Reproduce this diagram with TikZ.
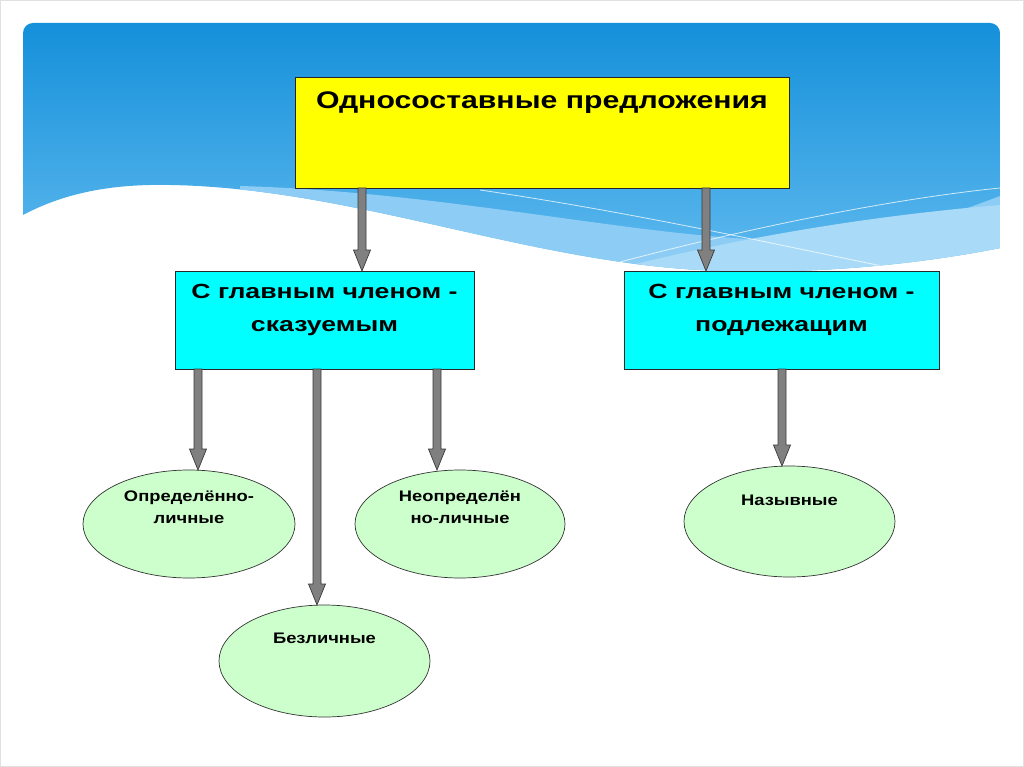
\documentclass[tikz,border=0pt]{standalone}
\usepackage{fontspec}
\newfontfamily\lab[FakeStretch=1.2]{Liberation Sans}
\newfontfamily\labtitle[FakeStretch=1.26]{Liberation Sans}
\newfontfamily\labbox[FakeStretch=1.3]{Liberation Sans}
\usetikzlibrary{shapes.geometric,calc}
\definecolor{bluetop}{HTML}{1590DA}
\definecolor{bluebot}{HTML}{62BBEF}
\definecolor{bandblue}{HTML}{8DCDF5}
\definecolor{bandlight}{HTML}{A9DBF8}
\definecolor{boxyellow}{HTML}{FFFF00}
\definecolor{boxcyan}{HTML}{00FFFF}
\definecolor{ovalgreen}{HTML}{CCFFCC}
\definecolor{arrowgray}{HTML}{808080}
\definecolor{arrowedge}{HTML}{3A3A3A}
\newcommand\blockarrow[2]{%
  \filldraw[arrowstyle] let \p1=#1, \p2=#2 in
   (\x1-4pt,\y1) -- (\x1-4pt,\y2+21pt) -- (\x1-8.5pt,\y2+21pt) -- (\x1,\y2)
   -- (\x1+8.5pt,\y2+21pt) -- (\x1+4pt,\y2+21pt) -- (\x1+4pt,\y1) -- cycle;}
\tikzset{
  ybox/.style={rectangle, draw=black!85, line width=0.8pt, fill=boxyellow, inner sep=0pt, outer sep=0pt,
    font={\labtitle\bfseries\fontsize{24pt}{28pt}\selectfont}},
  cbox/.style={rectangle, draw=black!85, line width=0.8pt, fill=boxcyan, inner sep=0pt, outer sep=0pt,
    font={\labbox\bfseries\fontsize{20.5pt}{33pt}\selectfont}},
  oval/.style={ellipse, draw=black!80, line width=0.7pt, fill=ovalgreen, inner sep=0pt, outer sep=0pt,
    font={\lab\bfseries\fontsize{15.3pt}{21.5pt}\selectfont}},
  arrowstyle/.style={fill=arrowgray, draw=arrowedge, line width=0.7pt, line join=miter},
  wline/.style={draw=white, line width=0.8pt, opacity=0.75}
}
\begin{document}
\begin{tikzpicture}[x=1pt,y=-1pt]
\useasboundingbox (0,0) rectangle (1024,767);
\fill[white] (0,0) rectangle (1024,767);
\draw[black!12] (0.5,0.5) rectangle (1023.5,766.5);
% background
\begin{scope}
\clip (23,215) [rounded corners=10pt] -- (23,23) -- (1000,23) [sharp corners] -- (1000,248)
  .. controls (930,262) and (820,276) .. (700,270)
  .. controls (520,260) and (350,188) .. (170,185)
  .. controls (120,184) and (70,190) .. (23,215) -- cycle;
\shade[top color=bluetop, bottom color=bluebot] (23,23) rectangle (1000,280);
\fill[bandblue] (240,186) .. controls (450,192) and (640,238) .. (780,240)
  .. controls (880,241) and (950,215) .. (1000,196) -- (1000,300) -- (240,300) -- cycle;
\fill[bandlight] (620,268) .. controls (750,235) and (880,215) .. (1000,205) -- (1000,300) -- (620,300) -- cycle;
\draw[wline] (480,190) .. controls (650,215) and (800,250) .. (912,272);
\draw[wline] (620,262) .. controls (760,225) and (900,198) .. (1000,188);
\end{scope}
% nodes
\node[ybox] (top) at (542,132.5) {\parbox[c][111pt][t]{494pt}{\centering\rule{0pt}{32pt}Односоставные предложения}};
\node[cbox] (lc) at (324.5,320) {\parbox[c][98pt][t]{299pt}{\centering\rule{0pt}{27.5pt}С главным членом -\\сказуемым}};
\node[cbox] (rc) at (781.5,320) {\parbox[c][98pt][t]{315pt}{\centering\rule{0pt}{27.5pt}С главным членом -\\подлежащим}};
\node[oval, minimum width=212pt, minimum height=108pt] (e1) at (189,524)
  {\parbox[c][70pt][t]{140pt}{\centering\rule{0pt}{12.5pt}Определённо-\\личные}};
\node[oval, minimum width=211pt, minimum height=112pt] (e2) at (324.5,661)
  {\parbox[c][70pt][t]{140pt}{\centering\rule{0pt}{17pt}Безличные}};
\node[oval, minimum width=210pt, minimum height=108pt] (e3) at (460,524)
  {\parbox[c][70pt][t]{140pt}{\centering\rule{0pt}{12.5pt}Неопределён\\но-личные}};
\node[oval, minimum width=211pt, minimum height=111pt] (e4) at (789.5,521.5)
  {\parbox[c][70pt][t]{140pt}{\centering\rule{0pt}{18.5pt}Назывные}};
% arrows
\blockarrow{([xshift=-180pt]top.south)}{(lc.north)}
\blockarrow{([xshift=164pt]top.south)}{(rc.north)}
\blockarrow{([xshift=-126.5pt]lc.south)}{(e1.north)}
\blockarrow{([xshift=-7.5pt]lc.south)}{(e2.north)}
\blockarrow{([xshift=112.5pt]lc.south)}{(e3.north)}
\blockarrow{([xshift=0.5pt]rc.south)}{(e4.north)}
\end{tikzpicture}
\end{document}
